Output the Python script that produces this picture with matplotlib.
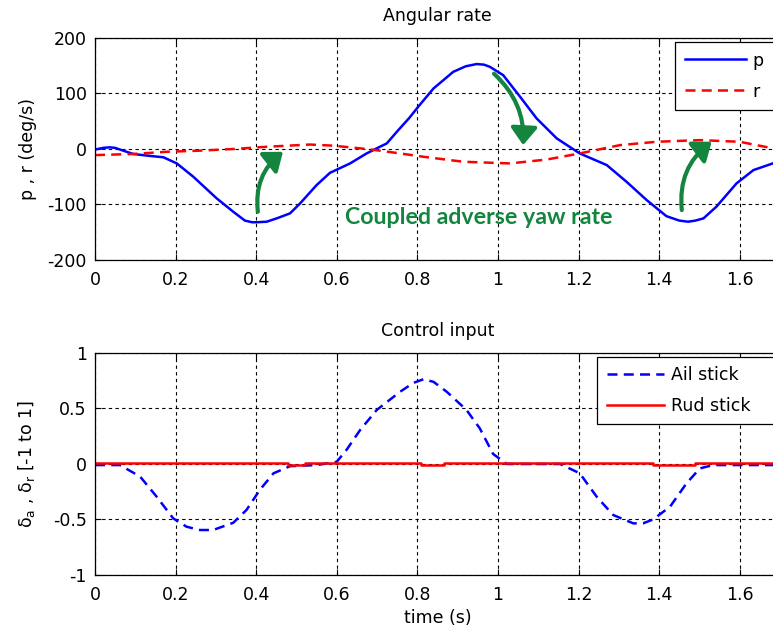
import matplotlib
matplotlib.use("Agg")
import matplotlib.pyplot as plt
from matplotlib.patches import FancyArrowPatch

plt.rcParams['font.family'] = ['DejaVu Sans']
plt.rcParams['axes.unicode_minus'] = False
plt.rcParams['mathtext.default'] = 'regular'

# ---------------- data ----------------
t_p = [0.0, 0.02, 0.037, 0.05, 0.07, 0.095, 0.13, 0.17, 0.203, 0.244, 0.302, 0.343, 0.372, 0.39, 0.401, 0.426,
       0.451, 0.484, 0.509, 0.55, 0.583, 0.633, 0.674, 0.707, 0.724, 0.749, 0.78, 0.802, 0.84,
       0.889, 0.92, 0.947, 0.965, 0.98, 1.013, 1.055, 1.096, 1.146, 1.203, 1.27, 1.319, 1.369, 1.418,
       1.45, 1.472, 1.49, 1.51, 1.542, 1.592, 1.634, 1.69]
p_vals = [-1, 2, 3, 2, -3, -9, -12, -15, -26, -50, -89, -113, -129, -132, -132, -131,
          -125, -116, -98, -65, -43, -26, -8, 4, 10, 31, 56, 76, 109,
          139, 149, 153, 152, 148, 133, 94, 55, 19, -8, -29, -59, -92, -121,
          -129, -131, -129, -125, -104, -62, -38, -24]

t_r = [0.0, 0.095, 0.178, 0.26, 0.343, 0.426, 0.533, 0.591, 0.674, 0.707, 0.757, 0.815,
       0.914, 1.03, 1.121, 1.203, 1.303, 1.394, 1.501, 1.6, 1.69]
r_vals = [-11, -9, -5, -3, 0, 4, 8, 6, 0, -3, -8, -14,
          -23, -26, -19, -8, 7, 13, 16, 13, 0]

t_ail = [0.0, 0.062, 0.112, 0.153, 0.194, 0.227, 0.26, 0.293, 0.343, 0.376, 0.409, 0.443,
         0.484, 0.55, 0.6, 0.624, 0.658, 0.699, 0.757, 0.79, 0.815, 0.84, 0.873, 0.922, 0.955, 0.988,
         1.022, 1.154, 1.203, 1.245, 1.286, 1.336, 1.36, 1.385, 1.427, 1.468, 1.501, 1.534, 1.69]
ail_vals = [-0.01, -0.01, -0.114, -0.295, -0.49, -0.565, -0.595, -0.595, -0.53, -0.414, -0.234, -0.084,
            -0.02, -0.01, 0.02, 0.126, 0.306, 0.486, 0.65, 0.73, 0.763, 0.74, 0.65, 0.486, 0.32, 0.09,
            0.0, 0.0, -0.084, -0.295, -0.46, -0.535, -0.535, -0.5, -0.385, -0.174, -0.04, -0.01, -0.01]

t_rud = [0.0, 0.48, 0.48, 0.52, 0.52, 0.81, 0.81, 0.865, 0.865, 1.385, 1.385, 1.49, 1.49, 1.69]
rud_vals = [0.006, 0.006, -0.006, -0.006, 0.006, 0.006, -0.006, -0.006, 0.006, 0.006, -0.006, -0.006, 0.006, 0.006]

x_ticks = [0, 0.2, 0.4, 0.6, 0.8, 1.0, 1.2, 1.4, 1.6]
x_ticklabels = ['0', '0.2', '0.4', '0.6', '0.8', '1', '1.2', '1.4', '1.6']
y1_ticks = [-200, -100, 0, 100, 200]
y1_ticklabels = ['-200', '-100', '0', '100', '200']
y2_ticks = [-1, -0.5, 0, 0.5, 1]
y2_ticklabels = ['-1', '-0.5', '0', '0.5', '1']

# arrows: (start x, start y, end x, end y, curvature)
arrows = [(0.405, -118, 0.472, -2, -0.3),
          (0.985, 139, 1.062, 2, -0.25),
          (1.457, -115, 1.536, 16, -0.3)]

GREEN = '#13853f'
FS = 12.5

fig = plt.figure(figsize=(7.73, 6.34), dpi=100)
ax1 = fig.add_axes([0.1229, 0.5899, 0.8862, 0.3502])
ax2 = fig.add_axes([0.1229, 0.0931, 0.8862, 0.3502])

def style(ax, yt, ytl, ylim):
    ax.set_xlim(0, 1.7)
    ax.set_ylim(*ylim)
    ax.set_xticks(x_ticks)
    ax.set_xticklabels(x_ticklabels)
    ax.set_yticks(yt)
    ax.set_yticklabels(ytl)
    ax.grid(True, color='black', linestyle=(0, (3, 3)), linewidth=0.8)
    ax.tick_params(direction='in', top=True, right=True, length=4, width=0.8,
                   labelsize=FS)
    ax.tick_params(axis='x', pad=8)
    ax.tick_params(axis='y', pad=6)
    for s in ax.spines.values():
        s.set_linewidth(0.9)

style(ax1, y1_ticks, y1_ticklabels, (-200, 200))
style(ax2, y2_ticks, y2_ticklabels, (-1, 1))

ax1.plot(t_p, p_vals, color='#0000ff', lw=1.8, label='p')
ax1.plot(t_r, r_vals, color='#ff0000', lw=1.8, linestyle=(0, (4, 2.5)), label='r')
ax1.set_title('Angular rate', fontsize=FS, pad=12)
ax1.set_ylabel('p , r (deg/s)', fontsize=FS)
ax1.yaxis.set_label_coords(-0.085, 0.5)
leg1 = ax1.legend(loc='upper left', bbox_to_anchor=(0.847, 0.982, 0.3, 0.0), mode='expand',
                  fontsize=FS, borderaxespad=0,
                  handlelength=3.5, handletextpad=0.4, borderpad=0.55,
                  labelspacing=0.75, fancybox=False, framealpha=1, edgecolor='black')
leg1.get_frame().set_linewidth(0.9)

for (x0, y0, x1, y1, rad) in arrows:
    ar = FancyArrowPatch((x0, y0), (x1, y1), connectionstyle=f'arc3,rad={rad}',
                         arrowstyle='-|>,head_width=0.5,head_length=0.65',
                         mutation_scale=16, lw=3, color=GREEN, zorder=5)
    ax1.add_patch(ar)

ax1.text(0.62, -124, 'Coupled adverse yaw rate', color=GREEN, fontsize=16.7,
         fontweight='bold', family=['Lato', 'DejaVu Sans'], ha='left', va='center', zorder=6)

ax2.plot(t_ail, ail_vals, color='#0000ff', lw=1.8, linestyle=(0, (4, 2.5)), label='Ail stick')
ax2.plot(t_rud, rud_vals, color='#ff0000', lw=1.8, label='Rud stick')
ax2.set_title('Control input', fontsize=FS, pad=12)
ax2.set_ylabel(r'$\delta_a$ , $\delta_r$ [-1 to 1]', fontsize=FS)
ax2.yaxis.set_label_coords(-0.085, 0.5)
ax2.set_xlabel('time (s)', fontsize=FS)
ax2.xaxis.set_label_coords(0.5, -0.155)
leg2 = ax2.legend(loc='upper left', bbox_to_anchor=(0.733, 0.982, 0.35, 0.0), mode='expand',
                  fontsize=FS, borderaxespad=0,
                  handlelength=3.3, handletextpad=0.4, borderpad=0.55,
                  labelspacing=0.7, fancybox=False, framealpha=1, edgecolor='black')
leg2.get_frame().set_linewidth(0.9)

fig.savefig('out.png', dpi=100)
